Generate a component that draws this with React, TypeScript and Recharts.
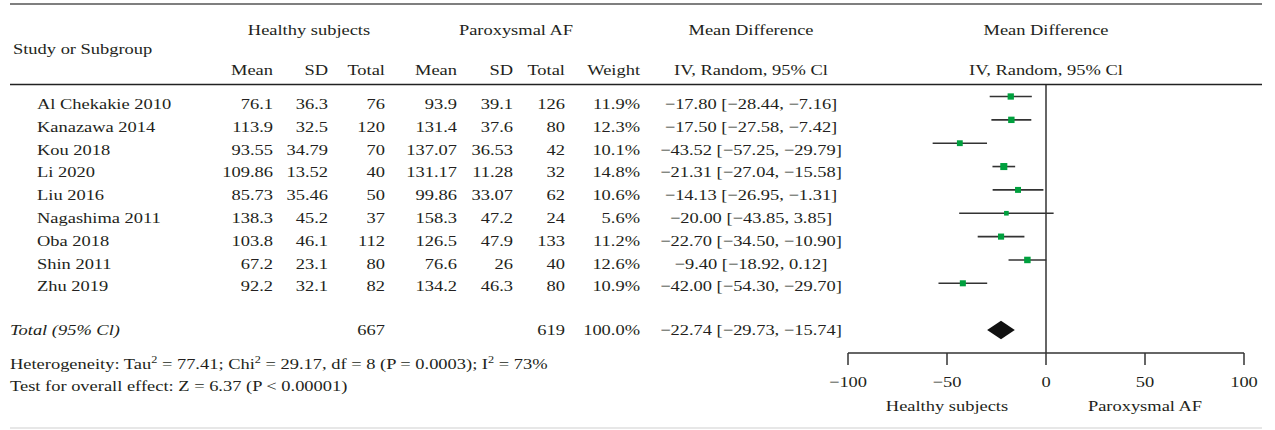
import React from 'react';
import {
  ComposedChart,
  Scatter,
  XAxis,
  YAxis,
  ReferenceLine,
  ReferenceArea,
  Customized,
} from 'recharts';

// ---------------- data ----------------
const studies = [
  'Al Chekakie 2010',
  'Kanazawa 2014',
  'Kou 2018',
  'Li 2020',
  'Liu 2016',
  'Nagashima 2011',
  'Oba 2018',
  'Shin 2011',
  'Zhu 2019',
];
const healthyMean = [76.1, 113.9, 93.55, 109.86, 85.73, 138.3, 103.8, 67.2, 92.2];
const healthySD = [36.3, 32.5, 34.79, 13.52, 35.46, 45.2, 46.1, 23.1, 32.1];
const healthyTotal = [76, 120, 70, 40, 50, 37, 112, 80, 82];
const afMean = [93.9, 131.4, 137.07, 131.17, 99.86, 158.3, 126.5, 76.6, 134.2];
const afSD = [39.1, 37.6, 36.53, 11.28, 33.07, 47.2, 47.9, 26, 46.3];
const afTotal = [126, 80, 42, 32, 62, 24, 133, 40, 80];
const weights = [11.9, 12.3, 10.1, 14.8, 10.6, 5.6, 11.2, 12.6, 10.9];
const meanDiff = [-17.8, -17.5, -43.52, -21.31, -14.13, -20.0, -22.7, -9.4, -42.0];
const ciLow = [-28.44, -27.58, -57.25, -27.04, -26.95, -43.85, -34.5, -18.92, -54.3];
const ciHigh = [-7.16, -7.42, -29.79, -15.58, -1.31, 3.85, -10.9, 0.12, -29.7];

const totalLabel = 'Total (95% Cl)';
const totalHealthy = 667;
const totalAF = 619;
const totalWeight = 100.0;
const totalMD = -22.74;
const totalLow = -29.73;
const totalHigh = -15.74;
const totalRow = 10;

const axisTicks = [-100, -50, 0, 50, 100];
const axisLeftLabel = 'Healthy subjects';
const axisRightLabel = 'Paroxysmal AF';

// ---------------- style ----------------
const FONT = '"Liberation Serif", "Times New Roman", serif';
const INK = '#231f20';
const GREEN = '#00a03e';
const SX = 1.23;
const FS = 15;

// layout constants (pixels)
const W = 1275;
const H = 430;
const Y0 = -0.4925;
const Y1 = 10.985;

const fmt2 = (v: number) => (v < 0 ? '\u2212' : '') + Math.abs(v).toFixed(2);
const mdLabel = (m: number, l: number, h: number) => `${fmt2(m)} [${fmt2(l)}, ${fmt2(h)}]`;

const scatterData = studies.map((s, i) => ({ x: meanDiff[i], y: i, w: weights[i], name: s }));

function T({
  x,
  y,
  anchor = 'start',
  size = FS,
  italic = false,
  children,
}: {
  x: number;
  y: number;
  anchor?: 'start' | 'middle' | 'end';
  size?: number;
  italic?: boolean;
  children: React.ReactNode;
}) {
  return (
    <g transform={`translate(${x},${y}) scale(${SX},1)`}>
      <text
        x={0}
        y={0}
        textAnchor={anchor}
        fontSize={size}
        fontStyle={italic ? 'italic' : 'normal'}
        fontFamily={FONT}
        fill={INK}
      >
        {children}
      </text>
    </g>
  );
}

function Sup({ children }: { children: React.ReactNode }) {
  return (
    <>
      <tspan dy={-6} fontSize={10}>
        {children}
      </tspan>
      <tspan dy={6}> </tspan>
    </>
  );
}

function TableLayer() {
  const rowBase = (i: number) => 109 + 22.8 * i;
  const cols = {
    hMean: 273,
    hSD: 328,
    hTotal: 385,
    aMean: 457,
    aSD: 513,
    aTotal: 565,
    weight: 640,
    md: 751,
    plot: 1046,
  };
  return (
    <g>
      {/* rules */}
      <line x1={10} x2={1262} y1={4} y2={4} stroke="#555" strokeWidth={1.5} />
      <line x1={10} x2={1262} y1={84.5} y2={84.5} stroke="#222" strokeWidth={1.5} />
      <line x1={10} x2={1262} y1={428} y2={428} stroke="#cfcfcf" strokeWidth={1} />

      {/* header row 1 */}
      <T x={309} y={35} anchor="middle">Healthy subjects</T>
      <T x={516} y={35} anchor="middle">Paroxysmal AF</T>
      <T x={cols.md} y={35} anchor="middle">Mean Difference</T>
      <T x={cols.plot} y={35} anchor="middle">Mean Difference</T>
      <T x={13} y={54}>Study or Subgroup</T>

      {/* header row 2 */}
      <T x={cols.hMean} y={75} anchor="end">Mean</T>
      <T x={cols.hSD} y={75} anchor="end">SD</T>
      <T x={cols.hTotal} y={75} anchor="end">Total</T>
      <T x={cols.aMean} y={75} anchor="end">Mean</T>
      <T x={cols.aSD} y={75} anchor="end">SD</T>
      <T x={cols.aTotal} y={75} anchor="end">Total</T>
      <T x={cols.weight} y={75} anchor="end">Weight</T>
      <T x={cols.md} y={75} anchor="middle">IV, Random, 95% Cl</T>
      <T x={cols.plot} y={75} anchor="middle">IV, Random, 95% Cl</T>

      {/* study rows */}
      {studies.map((s, i) => (
        <g key={s}>
          <T x={37} y={rowBase(i)}>{s}</T>
          <T x={cols.hMean} y={rowBase(i)} anchor="end">{String(healthyMean[i])}</T>
          <T x={cols.hSD} y={rowBase(i)} anchor="end">{String(healthySD[i])}</T>
          <T x={cols.hTotal} y={rowBase(i)} anchor="end">{String(healthyTotal[i])}</T>
          <T x={cols.aMean} y={rowBase(i)} anchor="end">{String(afMean[i])}</T>
          <T x={cols.aSD} y={rowBase(i)} anchor="end">{String(afSD[i])}</T>
          <T x={cols.aTotal} y={rowBase(i)} anchor="end">{String(afTotal[i])}</T>
          <T x={cols.weight} y={rowBase(i)} anchor="end">{weights[i].toFixed(1) + '%'}</T>
          <T x={cols.md} y={rowBase(i)} anchor="middle">{mdLabel(meanDiff[i], ciLow[i], ciHigh[i])}</T>
        </g>
      ))}

      {/* total row */}
      <T x={10} y={335} italic>{totalLabel}</T>
      <T x={cols.hTotal} y={335} anchor="end">{String(totalHealthy)}</T>
      <T x={cols.aTotal} y={335} anchor="end">{String(totalAF)}</T>
      <T x={cols.weight} y={335} anchor="end">{totalWeight.toFixed(1) + '%'}</T>
      <T x={cols.md} y={335} anchor="middle">{mdLabel(totalMD, totalLow, totalHigh)}</T>

      {/* statistics */}
      <T x={10} y={369} size={15}>
        <tspan>Heterogeneity: Tau</tspan>
        <Sup>2</Sup>
        <tspan>= 77.41; Chi</tspan>
        <Sup>2</Sup>
        <tspan>= 29.17, df = 8 (P = 0.0003); I</tspan>
        <Sup>2</Sup>
        <tspan>= 73%</tspan>
      </T>
      <T x={10} y={391} size={15}>Test for overall effect: Z = 6.37 (P &lt; 0.00001)</T>

      {/* axis side labels */}
      <T x={947} y={411} anchor="middle">{axisLeftLabel}</T>
      <T x={1145} y={411} anchor="middle">{axisRightLabel}</T>
    </g>
  );
}

function AxisTick(props: any) {
  const { x, y, payload } = props;
  const v = payload.value as number;
  const label = v < 0 ? `\u2212${Math.abs(v)}` : `${v}`;
  return (
    <g transform={`translate(${x},${y + 20}) scale(${SX},1)`}>
      <text x={0} y={0} textAnchor="middle" fontSize={FS} fontFamily={FONT} fill={INK}>
        {label}
      </text>
    </g>
  );
}

function Square(props: any) {
  const { cx, cy, payload } = props;
  const s = 3.2 + 0.26 * payload.w;
  return <rect x={cx - s / 2} y={cy - s / 2} width={s} height={s} fill={GREEN} />;
}

function Diamond(props: any) {
  const { x, y, width, height } = props;
  const pts = `${x},${y + height / 2} ${x + width / 2},${y} ${x + width},${y + height / 2} ${x + width / 2},${y + height}`;
  return <polygon points={pts} fill="#111" />;
}

export default function App() {
  return (
    <div style={{ position: 'absolute', left: 0, top: 0, width: W, height: H, background: '#fff' }}>
      <ComposedChart
        width={W}
        height={H}
        data={scatterData}
        margin={{ top: 85, left: 848, right: 31, bottom: 27 }}
      >
        <Customized component={TableLayer} />
        <XAxis
          type="number"
          dataKey="x"
          domain={[-100, 100]}
          ticks={axisTicks}
          interval={0}
          allowDataOverflow
          height={50}
          tickSize={12}
          tickMargin={2}
          axisLine={{ stroke: '#333', strokeWidth: 1.5 }}
          tickLine={{ stroke: '#333', strokeWidth: 1.5 }}
          tick={<AxisTick />}
        />
        <YAxis type="number" dataKey="y" domain={[Y0, Y1]} reversed hide allowDataOverflow />
        <ReferenceLine x={0} stroke="#333" strokeWidth={1.5} />
        {studies.map((s, i) => (
          <ReferenceLine
            key={s}
            segment={[
              { x: ciLow[i], y: i },
              { x: ciHigh[i], y: i },
            ]}
            stroke="#333"
            strokeWidth={1.6}
          />
        ))}
        <ReferenceArea
          x1={totalLow}
          x2={totalHigh}
          y1={totalRow - 0.4}
          y2={totalRow + 0.4}
          shape={<Diamond />}
        />
        <Scatter data={scatterData} dataKey="y" shape={<Square />} isAnimationActive={false} />
      </ComposedChart>
    </div>
  );
}
